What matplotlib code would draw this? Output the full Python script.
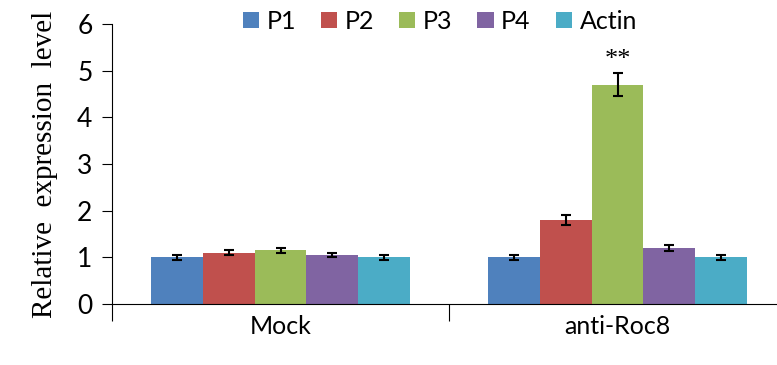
import matplotlib
matplotlib.use('Agg')
import matplotlib.pyplot as plt
import numpy as np

groups = ['Mock', 'anti-Roc8']
series = ['P1', 'P2', 'P3', 'P4', 'Actin']
values = {
    'P1': [1.0, 1.0],
    'P2': [1.1, 1.8],
    'P3': [1.15, 4.7],
    'P4': [1.05, 1.2],
    'Actin': [1.0, 1.0],
}
errors = {
    'P1': [0.05, 0.05],
    'P2': [0.06, 0.1],
    'P3': [0.06, 0.25],
    'P4': [0.05, 0.06],
    'Actin': [0.05, 0.05],
}
colours = ['#4F81BD', '#C0504D', '#9BBB59', '#8064A2', '#4BACC6']

plt.rcParams['font.family'] = ['Lato', 'DejaVu Sans']

fig = plt.figure(figsize=(7.77, 3.65), dpi=100)
ax = fig.add_axes([112/777, 61/365, 674/777, 280/365])

x = np.arange(len(groups))
w = 0.154
for i, (name, c) in enumerate(zip(series, colours)):
    pos = x + (i - 2) * w
    ax.bar(pos, values[name], w, color=c, label=name, zorder=2)
    ax.errorbar(pos, values[name], yerr=errors[name], fmt='none', ecolor='black',
                elinewidth=1.5, capsize=3.5, capthick=1.5, zorder=3)

# significance mark over P3 in anti-Roc8
ax.text(x[1], values['P3'][1] + errors['P3'][1] + 0.05, '**', ha='center', va='bottom',
        fontsize=19, family='Liberation Serif')

ax.set_xlim(-0.5, 1.5)
ax.set_ylim(0, 6)
ax.set_yticks(range(7))
ax.tick_params(axis='y', labelsize=19, length=7, direction='out', pad=7)
ax.set_xticks([-0.5, 0.5, 1.5])
ax.set_xticklabels([])
ax.tick_params(axis='x', which='major', length=12, direction='out')
ax.set_xticks(x, minor=True)
ax.set_xticklabels(groups, minor=True)
ax.tick_params(axis='x', which='minor', length=0, labelsize=18, pad=8)
ax.spines['top'].set_visible(False)
ax.spines['right'].set_visible(False)
ax.set_ylabel('Relative  expression  level', family='Liberation Serif', fontsize=21, labelpad=14)

fig.legend(loc='upper center', bbox_to_anchor=(0.566, 1.035), ncol=5, frameon=False,
           fontsize=18, handlelength=0.65, handleheight=0.65, handletextpad=0.3,
           columnspacing=1.0)

fig.savefig('out.png', dpi=100)
